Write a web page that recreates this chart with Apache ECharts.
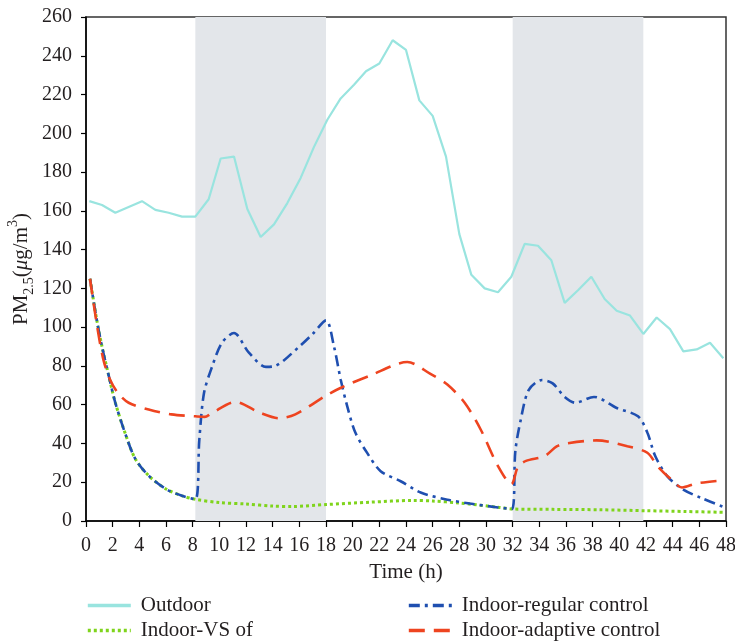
<!DOCTYPE html>
<html>
<head>
<meta charset="utf-8">
<script src="https://cdn.jsdelivr.net/npm/echarts@6/dist/echarts.min.js"></script>
<style>
  html, body { margin: 0; padding: 0; background: #fff; }
  #chart { width: 735px; height: 643px; }
</style>
</head>
<body>
<div id="chart"></div>
<script>
// hourly outdoor readings
var outdoorTime = [0.25, 1.2, 2.2, 3.2, 4.2, 5.2, 6.2, 7.2, 8.2, 9.2, 10.1, 11.1, 12.1, 13.1, 14.1, 15.1, 16.1, 17.1, 18.1, 19.1, 20.1, 21, 22, 23, 24, 25, 26, 27, 28, 28.9, 29.9, 30.9, 31.9, 32.9, 33.9, 34.9, 35.9, 36.9, 37.9, 38.9, 39.8, 40.8, 41.8, 42.8, 43.8, 44.8, 45.8, 46.8, 47.8];
var outdoorValues = [165, 163, 159, 162, 165, 160.5, 159, 157, 157, 166, 187, 188, 161, 146.5, 153, 164, 177, 193, 207, 218, 225, 232, 236, 248, 243, 217, 209, 188, 148, 127, 120, 118, 126, 143, 142, 134.5, 112.5, 119, 126, 114.5, 108.5, 106, 96.5, 105, 99, 87.5, 88.5, 92, 84];

var vsTime = [0.3, 0.8, 1.2, 1.6, 2.2, 3, 3.7, 4.7, 6, 7.2, 8.2, 10, 12, 14, 15.5, 18, 21.3, 24.5, 26, 28, 31, 32, 35, 38.6, 42, 45, 47.8];
var vsValues = [125, 104, 90, 78, 61, 44, 32, 23.4, 16.5, 13, 11.2, 9.5, 8.8, 7.7, 7.5, 8.5, 9.7, 10.6, 10.3, 9.3, 7, 6.2, 6, 5.8, 5.3, 4.9, 4.5];

var regularTime = [0.3, 0.8, 1.2, 1.6, 2.2, 3, 3.7, 4.7, 6, 7.2, 8.2, 8.5, 8.85, 9.45, 10.2, 11.1, 12.2, 13.5, 14.2, 16, 17, 18, 18.6, 19.1, 19.6, 20.2, 21.1, 22.1, 23.6, 25.1, 27.1, 28.8, 30.9, 31.95, 32.2, 32.6, 33.2, 34.2, 35, 35.9, 36.7, 38.1, 39.8, 41.4, 42.1, 42.7, 43.6, 44.8, 46.1, 47.8];
var regularValues = [125, 104, 90, 78, 61, 44, 32, 23.4, 16.5, 13, 11.2, 42, 66, 79.5, 92, 97, 87, 79.5, 80, 90, 96.5, 103.5, 90, 73, 59, 45.6, 35, 25.7, 20.5, 14.7, 11, 9, 7, 6.2, 36, 52, 67.5, 72.7, 71, 64, 61, 64, 58.3, 54, 45.6, 33.4, 23, 16.2, 12, 7.3];

var adaptiveTime = [0.3, 0.8, 1.3, 1.8, 2.4, 3.2, 4.7, 6.4, 8.2, 8.9, 9.4, 11.2, 13, 14.5, 15.7, 18, 19.2, 21.3, 24.1, 25.8, 27.1, 28.4, 29.6, 30.9, 31.9, 32.4, 33, 34.4, 35.3, 36, 38.3, 40.6, 42.1, 42.9, 43.9, 44.7, 45.8, 47.8];
var adaptiveValues = [125, 102, 83.3, 73, 66, 61, 57.5, 55, 54, 53.7, 55.5, 61.4, 56, 53, 55, 64.7, 69, 75, 82, 76, 70.4, 61, 47.2, 28.3, 19, 28, 31, 33.5, 38.5, 40, 41.6, 38.6, 35.2, 28, 21.4, 17.3, 19.4, 21];

// shaded periods (h)
var shadeStart = [8.2, 32];
var shadeEnd = [18, 41.8];

var serifFont = "Liberation Serif";
var textColor = "#231f20";

function pairs(xs, ys) {
  var out = [];
  for (var i = 0; i < xs.length; i++) {
    out.push([xs[i], ys[i]]);
  }
  return out;
}

var shadeAreas = [];
for (var i = 0; i < shadeStart.length; i++) {
  shadeAreas.push([{ xAxis: shadeStart[i] }, { xAxis: shadeEnd[i] }]);
}

var myChart = echarts.init(document.getElementById("chart"));

var legendText = {
  fontFamily: serifFont,
  fontSize: 21,
  color: textColor,
  lineHeight: 20,
  padding: [0, 0, 0, 5],
};

function legendAt(left, names) {
  return {
    orient: "vertical",
    left: left,
    top: 595,
    padding: 0,
    itemWidth: 43,
    itemHeight: 14,
    itemGap: 4,
    itemStyle: { opacity: 0 },
    lineStyle: { width: 3.6 },
    textStyle: legendText,
    data: names,
  };
}

var option = {
  animation: false,
  textStyle: { fontFamily: serifFont },
  grid: {
    left: 86,
    right: 9,
    top: 17,
    bottom: 122,
    outerBoundsMode: "none",
    show: true,
    borderColor: "#333",
    borderWidth: 1.5,
  },
  legend: [
    legendAt(86, ["Outdoor", "Indoor-VS of"]),
    legendAt(407, ["Indoor-regular control", "Indoor-adaptive control"]),
  ],
  xAxis: {
    type: "value",
    min: 0,
    max: 48,
    interval: 2,
    name: "Time (h)",
    nameLocation: "middle",
    nameGap: 41,
    nameMoveOverlap: false,
    nameTextStyle: { fontFamily: serifFont, fontSize: 21, color: textColor },
    axisLine: { lineStyle: { color: "#000", width: 1.5 } },
    axisTick: { inside: false, length: 6, lineStyle: { color: "#000", width: 1.2 } },
    axisLabel: { fontFamily: serifFont, fontSize: 20, color: textColor, margin: 15 },
    splitLine: { show: false },
  },
  yAxis: {
    type: "value",
    min: 0,
    max: 260,
    interval: 20,
    name: "PM{sub|2.5}({it|μ}g/m{sup|3})",
    nameLocation: "middle",
    nameGap: 50,
    nameMoveOverlap: false,
    nameTextStyle: {
      fontFamily: serifFont,
      fontSize: 21,
      color: textColor,
      lineHeight: 30,
      rich: {
        sub: { fontFamily: serifFont, fontSize: 14, color: textColor, verticalAlign: "bottom", lineHeight: 14 },
        sup: { fontFamily: serifFont, fontSize: 14, color: textColor, verticalAlign: "top", lineHeight: 14 },
        it: { fontFamily: serifFont, fontSize: 21, color: textColor, fontStyle: "italic" },
      },
    },
    axisLine: { show: true, lineStyle: { color: "#000", width: 1.5 } },
    axisTick: { show: true, inside: false, length: 5, lineStyle: { color: "#000", width: 1.2 } },
    axisLabel: { fontFamily: serifFont, fontSize: 20, color: textColor, margin: 14 },
    splitLine: { show: false },
  },
  series: [
    {
      name: "Outdoor",
      type: "line",
      symbol: "none",
      color: "#99e4df",
      lineStyle: { width: 2.2, color: "#99e4df" },
      data: pairs(outdoorTime, outdoorValues),
      markArea: {
        silent: true,
        itemStyle: { color: "#e3e6ea" },
        data: shadeAreas,
      },
    },
    {
      name: "Indoor-VS of",
      type: "line",
      symbol: "none",
      smooth: 0.3,
      color: "#7fd41c",
      lineStyle: { width: 3, color: "#7fd41c", type: [3, 3] },
      data: pairs(vsTime, vsValues),
    },
    {
      name: "Indoor-regular control",
      type: "line",
      symbol: "none",
      smooth: 0.3,
      color: "#1f4fb0",
      lineStyle: { width: 2.6, color: "#1f4fb0", type: [11, 5, 3, 5] },
      data: pairs(regularTime, regularValues),
    },
    {
      name: "Indoor-adaptive control",
      type: "line",
      symbol: "none",
      smooth: 0.3,
      color: "#ee4420",
      lineStyle: { width: 2.6, color: "#ee4420", type: [16, 9] },
      data: pairs(adaptiveTime, adaptiveValues),
    },
  ],
};

myChart.setOption(option);
window.addEventListener("resize", function () {
  myChart.resize();
});
</script>
</body>
</html>
